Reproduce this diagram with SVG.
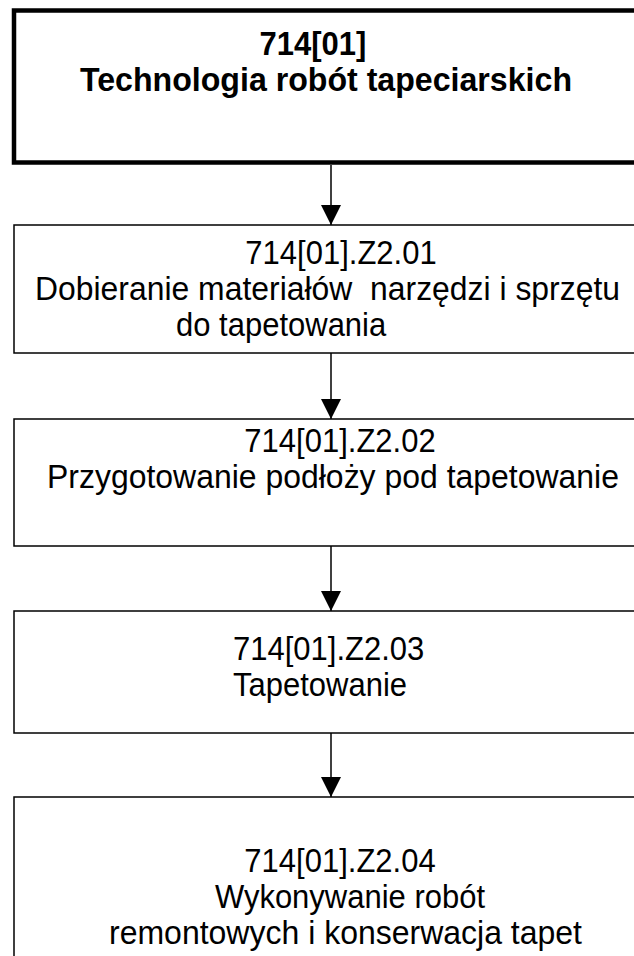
<svg xmlns="http://www.w3.org/2000/svg" width="634" height="956" viewBox="0 0 634 956">
<style>
.box{fill:#fff;stroke:#000;stroke-width:1.5}
.box1{fill:#fff;stroke:#000;stroke-width:4.5}
.t{font-family:"Liberation Sans",Arial,sans-serif;font-size:31px;fill:#000}
.m{text-anchor:middle}
.b{font-weight:bold}
.c{stroke:#000;stroke-width:1.5;fill:none}
</style>
<defs>
<marker id="ah" markerUnits="userSpaceOnUse" markerWidth="21" markerHeight="21" refX="20" refY="10" orient="auto">
<path d="M0,0 L20,10 L0,20 Z" fill="#000"/>
</marker>
</defs>
<rect width="634" height="956" fill="#fff"/>
<g id="connectors">
<line class="c" x1="331" y1="165" x2="331" y2="225" marker-end="url(#ah)"/>
<line class="c" x1="331" y1="353" x2="331" y2="419" marker-end="url(#ah)"/>
<line class="c" x1="331" y1="546" x2="331" y2="611" marker-end="url(#ah)"/>
<line class="c" x1="331" y1="733" x2="331" y2="797" marker-end="url(#ah)"/>
</g>
<g id="n0">
<rect class="box1" x="14" y="10.5" width="640" height="152"/>
<text class="t b m" transform="translate(313,55) scale(1,1.1)">714[01]</text>
<text class="t b" transform="translate(80,91) scale(1,1.1)" textLength="492" lengthAdjust="spacingAndGlyphs">Technologia robót tapeciarskich</text>
</g>
<g id="n1">
<rect class="box" x="14" y="225" width="640" height="128"/>
<text class="t m" transform="translate(341,264) scale(1,1.1)">714[01].Z2.01</text>
<text class="t" transform="translate(35,300) scale(1,1.1)" xml:space="preserve" textLength="585" lengthAdjust="spacingAndGlyphs">Dobieranie materiałów  narzędzi i sprzętu</text>
<text class="t" transform="translate(176,336) scale(1,1.1)">do tapetowania</text>
</g>
<g id="n2">
<rect class="box" x="14" y="419" width="640" height="127"/>
<text class="t m" transform="translate(340,452) scale(1,1.1)">714[01].Z2.02</text>
<text class="t" transform="translate(47,488) scale(1,1.1)" textLength="572" lengthAdjust="spacingAndGlyphs">Przygotowanie podłoży pod tapetowanie</text>
</g>
<g id="n3">
<rect class="box" x="14" y="611" width="640" height="122"/>
<text class="t" transform="translate(233,660) scale(1,1.1)">714[01].Z2.03</text>
<text class="t" transform="translate(233,696) scale(1,1.1)">Tapetowanie</text>
</g>
<g id="n4">
<rect class="box" x="14" y="797" width="640" height="200"/>
<text class="t m" transform="translate(340,872) scale(1,1.1)">714[01].Z2.04</text>
<text class="t m" transform="translate(350,908) scale(1,1.1)">Wykonywanie robót</text>
<text class="t" transform="translate(109,944) scale(1,1.1)" textLength="473" lengthAdjust="spacingAndGlyphs">remontowych i konserwacja tapet</text>
</g>
</svg>
